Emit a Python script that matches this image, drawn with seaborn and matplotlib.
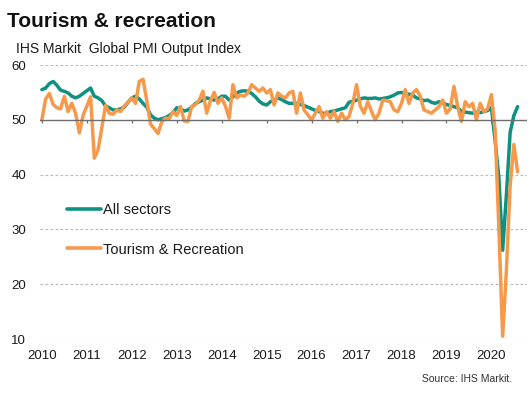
import numpy as np
import pandas as pd
import matplotlib
matplotlib.use("Agg")
import matplotlib.pyplot as plt
import seaborn as sns
from matplotlib.lines import Line2D

# ---- data (monthly, Jan 2010 .. Aug 2020) ----
start_year = 2010
year_labels = [str(y) for y in range(2010, 2021)]

all_sectors = [
    55.5, 55.8, 56.6, 57.0, 56.3, 55.4, 55.2, 54.9, 54.3, 54.0, 54.3, 54.8,
    55.3, 55.8, 54.3, 54.0, 53.5, 52.5, 52.2, 51.8, 51.8, 52.0, 52.3, 53.2,
    54.0, 54.3, 53.8, 53.0, 52.3, 50.9, 50.3, 50.0, 50.2, 50.4, 50.8, 51.3,
    52.2, 52.0, 51.6, 51.8, 52.3, 53.0, 53.3, 53.6, 54.0, 53.8, 53.6, 53.8,
    54.3, 54.3, 53.6, 54.2, 54.9, 55.2, 55.3, 55.2, 54.8, 54.2, 53.4, 52.9,
    52.7, 53.3, 53.6, 54.0, 53.7, 53.3, 53.0, 53.0, 53.0, 52.8, 52.6, 52.3,
    52.0, 51.7, 51.5, 51.2, 51.1, 51.5, 51.6, 51.8, 52.0, 52.2, 53.2, 53.4,
    53.6, 53.8, 54.0, 53.9, 53.9, 54.0, 53.8, 53.9, 54.0, 54.2, 54.5, 54.9,
    55.0, 54.6, 54.7, 54.5, 54.0, 53.8, 53.5, 53.6, 53.2, 53.0, 53.3, 53.0,
    52.8, 52.6, 52.4, 52.2, 51.5, 51.4, 51.3, 51.2, 51.4, 51.3, 51.5, 51.7,
    52.2, 46.1, 39.4, 26.2, 36.3, 47.7, 50.8, 52.4,
]

tourism = [
    50.0, 53.8, 54.8, 52.8, 52.2, 52.0, 54.3, 51.5, 53.0, 51.2, 47.6, 50.8,
    52.5, 54.2, 43.0, 44.5, 48.5, 52.6, 51.2, 51.0, 51.8, 51.5, 52.5, 53.2,
    54.0, 53.0, 57.0, 57.4, 53.5, 49.2, 48.4, 47.5, 49.6, 50.3, 50.2, 51.5,
    50.8, 52.4, 49.8, 49.7, 52.4, 52.8, 53.6, 55.2, 51.2, 53.5, 55.0, 53.0,
    54.0, 52.5, 50.3, 56.4, 54.0, 54.5, 54.3, 54.9, 56.4, 55.8, 55.2, 55.8,
    54.9, 55.5, 52.7, 54.9, 54.3, 54.0, 54.9, 55.2, 51.2, 54.9, 51.8, 50.9,
    50.0, 51.2, 52.4, 50.3, 51.5, 50.3, 51.5, 49.7, 51.2, 50.0, 50.6, 53.0,
    56.4, 52.5, 51.2, 53.3, 51.5, 50.0, 51.2, 53.6, 53.5, 53.3, 51.8, 51.5,
    53.0, 55.5, 53.0, 54.9, 55.5, 54.3, 51.8, 51.5, 51.2, 51.8, 52.4, 53.6,
    51.2, 52.0, 56.1, 52.4, 49.7, 53.3, 52.4, 53.0, 50.0, 53.0, 51.5, 52.0,
    54.6, 48.0, 30.0, 10.5, 22.5, 38.0, 45.5, 40.5,
]

series_names = ["All sectors", "Tourism & Recreation"]
colors = ["#0E9181", "#F7994A"]
y_ticks = [10, 20, 30, 40, 50, 60]

months = np.arange(len(all_sectors))
df = pd.DataFrame({
    "month": np.concatenate([months, months]),
    "value": all_sectors + tourism,
    "series": [series_names[0]] * len(all_sectors) + [series_names[1]] * len(tourism),
})

sns.set_theme(style="white")
plt.rcParams["font.family"] = ["Liberation Sans", "DejaVu Sans"]

fig = plt.figure(figsize=(5.31, 3.97), dpi=100)
W, H = 531, 397
ax_l, ax_r, ax_t, ax_b = 40, 527, 65, 339
ax = fig.add_axes([ax_l / W, 1 - ax_b / H, (ax_r - ax_l) / W, (ax_b - ax_t) / H])

# gridlines (dashed) except at 50
for yv in y_ticks:
    if yv == 50:
        continue
    ax.axhline(yv, color="#B8B8B8", lw=0.8, ls=(0, (2.5, 2)), zorder=0)

sns.lineplot(data=df, x="month", y="value", hue="series",
             hue_order=series_names, palette=colors,
             linewidth=2.5, legend=False, ax=ax, sort=False)

# 50 axis line with year ticks
ax.axhline(50, color="#6E6E6E", lw=1.0, zorder=3)
year_pos = np.arange(0, len(all_sectors), 12)
ax.vlines(year_pos, 49.45, 50, color="#6E6E6E", lw=0.9, zorder=3)

ax.set_xlim(-0.5, 129.5)
ax.set_ylim(10, 60)
ax.set_yticks(y_ticks)
ax.set_yticklabels([str(v) for v in y_ticks])
ax.set_xticks(year_pos)
ax.set_xticklabels(year_labels[:len(year_pos)])
ax.tick_params(axis="both", length=0, labelsize=9.5, colors="#1a1a1a")
ax.tick_params(axis="x", pad=8)
ax.tick_params(axis="y", pad=10)
ax.set_xlabel("")
ax.set_ylabel("")
for s in ax.spines.values():
    s.set_visible(False)
ax.set_facecolor("none")

# legend
handles = [Line2D([0], [0], color=c, lw=2.6) for c in colors]
leg = fig.legend(handles, series_names, loc="upper left",
                 bbox_to_anchor=(67 / W, 1 - 203 / H), frameon=False,
                 fontsize=10.5, handlelength=2.3, handletextpad=0.15,
                 labelspacing=1.75, borderpad=0, borderaxespad=0)
for t in leg.get_texts():
    t.set_color("#1a1a1a")

# titles
fig.text(7 / W, 1 - 27 / H, "Tourism & recreation", fontsize=15, fontweight="bold",
         ha="left", va="baseline", color="#111111")
fig.text(16 / W, 1 - 53 / H, "IHS Markit  Global PMI Output Index", fontsize=10,
         ha="left", va="baseline", color="#1a1a1a")
fig.text(512 / W, 1 - 382 / H, "Source: IHS Markit.", fontsize=7.5,
         ha="right", va="baseline", color="#333333")

fig.savefig("out.png", dpi=100)
